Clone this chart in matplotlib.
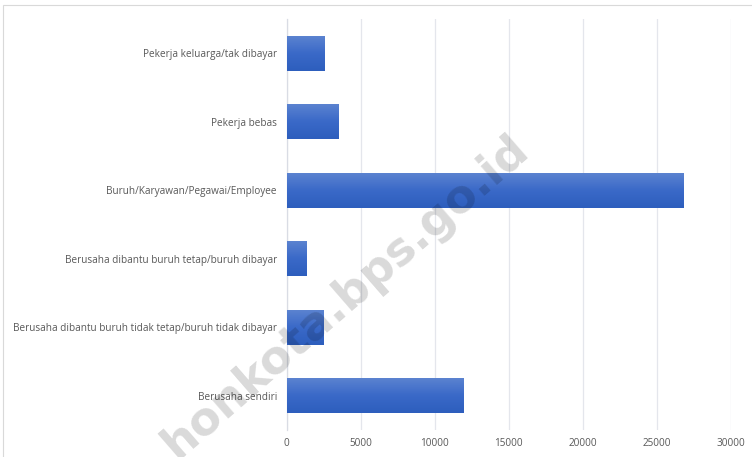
import matplotlib
matplotlib.use("Agg")
import matplotlib.pyplot as plt
import numpy as np
from matplotlib.colors import LinearSegmentedColormap
from matplotlib.patches import Rectangle

categories = [
    "Berusaha sendiri",
    "Berusaha dibantu buruh tidak tetap/buruh tidak dibayar",
    "Berusaha dibantu buruh tetap/buruh dibayar",
    "Buruh/Karyawan/Pegawai/Employee",
    "Pekerja bebas",
    "Pekerja keluarga/tak dibayar",
]
values = [11900, 2450, 1350, 26750, 3450, 2500]
xticks = [0, 5000, 10000, 15000, 20000, 25000, 30000]

plt.rcParams['font.family'] = ['Open Sans', 'DejaVu Sans']

fig = plt.figure(figsize=(7.52, 4.57), dpi=100)
fig.patch.set_facecolor("white")
# outer chart border
fig.add_artist(Rectangle((3/752, -0.01), 1.0, 1 - 5/457 + 0.01, transform=fig.transFigure,
                         fill=False, edgecolor="#d9d9d9", linewidth=0.8))

ax = fig.add_axes([286.7/752, 1 - 430/457, (731 - 286.7)/752, (430 - 19)/457])
y = np.arange(len(categories))
bars = ax.barh(y, values, height=0.51, color="#4472c4", edgecolor="none", zorder=2)

cmap = LinearSegmentedColormap.from_list("g", ["#2d5ebd", "#3a69c8", "#5b83d0"])
grad = np.linspace(0, 1, 256).reshape(-1, 1)
for b in bars:
    x0, y0 = b.get_x(), b.get_y()
    w, h = b.get_width(), b.get_height()
    im = ax.imshow(grad, cmap=cmap, aspect="auto", origin="lower",
                   extent=[x0, x0 + w, y0, y0 + h], zorder=3)
    im.set_clip_path(b)

ax.set_xlim(0, 30000)
ax.set_ylim(-0.5, len(categories) - 0.5)
ax.set_xticks(xticks)
ax.set_xticklabels([str(t) for t in xticks])
ax.set_yticks(y)
ax.set_yticklabels(categories)
ax.tick_params(axis="both", length=0, labelsize=7.2, colors="#595959", pad=6)
ax.tick_params(axis="y", pad=7)
ax.grid(axis="x", color="#e4e6ec", linewidth=0.9, zorder=0)
ax.set_axisbelow(True)
for s in ["top", "right", "bottom"]:
    ax.spines[s].set_visible(False)
ax.spines["left"].set_color("#d9dce4")
ax.spines["left"].set_linewidth(0.9)

fig.text(345/752, 1 - 297/457, "honkota.bps.go.id", rotation=41, ha="center", va="center",
         fontsize=33, fontweight="bold", color="black", alpha=0.15,
         family=["DejaVu Sans"], zorder=10)

fig.savefig("out.png", dpi=100)
